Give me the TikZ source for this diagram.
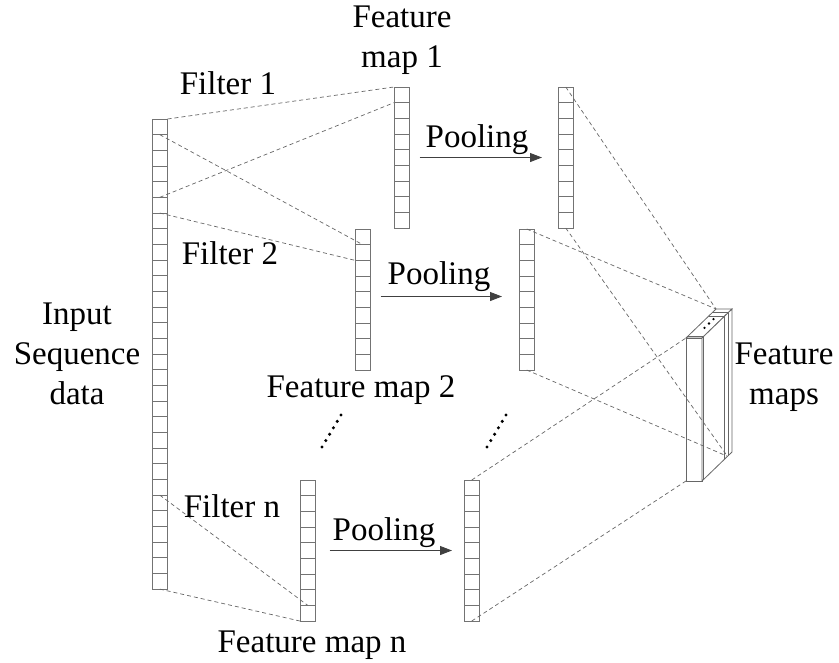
\documentclass[tikz,border=0pt]{standalone}
\usepackage{fontspec}
\setmainfont{Liberation Serif}
\usetikzlibrary{arrows.meta,calc}
\newcommand{\cellcolumn}[5]{% name, x, ytop, ncells, ncells-1
  \node[colbox, minimum height=#4*15.67pt, anchor=north west] (#1) at (#2,#3) {};
  \foreach \k in {1,...,#5}
    \draw[colline] ($(#1.north west)+(0,\k*15.67)$) -- ($(#1.north east)+(0,\k*15.67)$);
}
\begin{document}
\begin{tikzpicture}[x=1pt,y=-1pt,
  colbox/.style={draw=black!55, line width=0.8pt, minimum width=15.5pt, inner sep=0pt, outer sep=0pt},
  colline/.style={draw=black!55, line width=0.8pt},
  fdash/.style={draw=black!60, line width=0.7pt, dash pattern=on 4pt off 3pt},
  lbl/.style={font=\fontsize{33}{40}\selectfont, inner sep=0pt, align=center},
  parrow/.style={draw=black!75, line width=0.9pt, -{Triangle[length=12pt,width=9pt]}},
  blk/.style={draw=black!60, line width=0.8pt}]
\useasboundingbox (0,0) rectangle (839,663);

% columns
\cellcolumn{in}{152}{119}{30}{29}
\cellcolumn{fm1}{394}{87}{9}{8}
\cellcolumn{fm2}{355}{229}{9}{8}
\cellcolumn{fmn}{300}{480}{9}{8}
\cellcolumn{pl1}{558}{87}{9}{8}
\cellcolumn{pl2}{519}{229}{9}{8}
\cellcolumn{pln}{464}{480}{9}{8}

% filter connection points
\coordinate (i1) at ($(in.north)+(0,1*15.67)$);
\coordinate (i5) at ($(in.north)+(0,5*15.67)$);
\coordinate (i6) at ($(in.north)+(0,6*15.67)$);
\coordinate (i24) at ($(in.north)+(0,24*15.67)$);
\coordinate (m1b) at ($(fm1.north west)+(0,15.67)$);
\coordinate (m2a) at ($(fm2.north)+(0,15.67)$);
\coordinate (m2b) at ($(fm2.north west)+(0,2*15.67)$);
\coordinate (mna) at ($(fmn.north)+(0,8*15.67)$);

\draw[fdash] (in.north east) -- (fm1.north west);
\draw[fdash] (i5) -- (m1b);
\draw[fdash] (i1) -- (m2a);
\draw[fdash] (i6) -- (m2b);
\draw[fdash] (i24) -- (mna);
\draw[fdash] (in.south) -- (fmn.south west);

% pooling arrows
\draw[parrow] ([xshift=10pt]fm1.east) -- ([xshift=-16pt]pl1.west);
\draw[parrow] ([xshift=10pt,yshift=3pt]fm2.east) -- ([xshift=-17pt,yshift=3pt]pl2.west);
\draw[parrow] ([xshift=14pt]fmn.east) -- ([xshift=-12pt]pln.west);

% feature maps block
\coordinate (bA) at (686,338);
\coordinate (bB) at (702,338);
\coordinate (bC) at (702,481);
\coordinate (bD) at (686,481);
\coordinate (bA2) at ($(bA)+(30,-29)$);
\coordinate (bB2) at ($(bB)+(30,-29)$);
\coordinate (bC2) at ($(bC)+(30,-29)$);
\coordinate (bE) at ($(bC)+0.85*(30,-29)$);

\filldraw[blk, fill=white] (bA) -- (bB) -- (bC) -- (bD) -- cycle;
\filldraw[blk, fill=white] (bA) -- (bB) -- (bB2) -- (bA2) -- cycle;
\filldraw[blk, fill=white] (bB) -- (bB2) -- (bC2) -- (bC) -- cycle;
\foreach \t in {0.06,0.75,0.87}{
  \draw[blk] ($(bA)+\t*(30,-29)$) -- ($(bB)+\t*(30,-29)$) -- ($(bC)+\t*(30,-29)$);
}
\foreach \t in {0.35,0.5,0.65}
  \fill ($(bA)+(8,0)+\t*(30,-29)$) circle (1.3pt);

\draw[fdash] (pl1.north) -- (bA2);
\draw[fdash] (pl2.north) -- (bA2);
\draw[fdash] (pl1.south) -- (bE);
\draw[fdash] (pl2.south) -- (bE);
\draw[fdash] (pln.north) -- (bA);
\draw[fdash] (pln.south) -- (bD);

% vertical ellipses
\foreach \t in {0,...,5}{
  \fill ($(322,447)!\t/5!(341,415)$) circle (1.7pt);
  \fill ($(487,447)!\t/5!(506,415)$) circle (1.7pt);
}

% labels
\node[lbl] (tin) at (77,354) {Input\\Sequence\\data};
\node[lbl] (tfm1) at (402,40) {Feature\\map 1};
\node[lbl, anchor=base] (tf1) at (228,95) {Filter 1};
\node[lbl, anchor=base] (tf2) at (230,265) {Filter 2};
\node[lbl, anchor=base] (tfn) at (232,517) {Filter n};
\node[lbl, anchor=base] (tp1) at (477,148) {Pooling};
\node[lbl, anchor=base] (tp2) at (439,285) {Pooling};
\node[lbl, anchor=base] (tpn) at (384,540) {Pooling};
\node[lbl, anchor=base] (tfm2) at (361,397) {Feature map 2};
\node[lbl, anchor=base] (tfmn) at (312,652) {Feature map n};
\node[lbl] (tfms) at (784,377) {Feature\\maps};
\end{tikzpicture}
\end{document}
